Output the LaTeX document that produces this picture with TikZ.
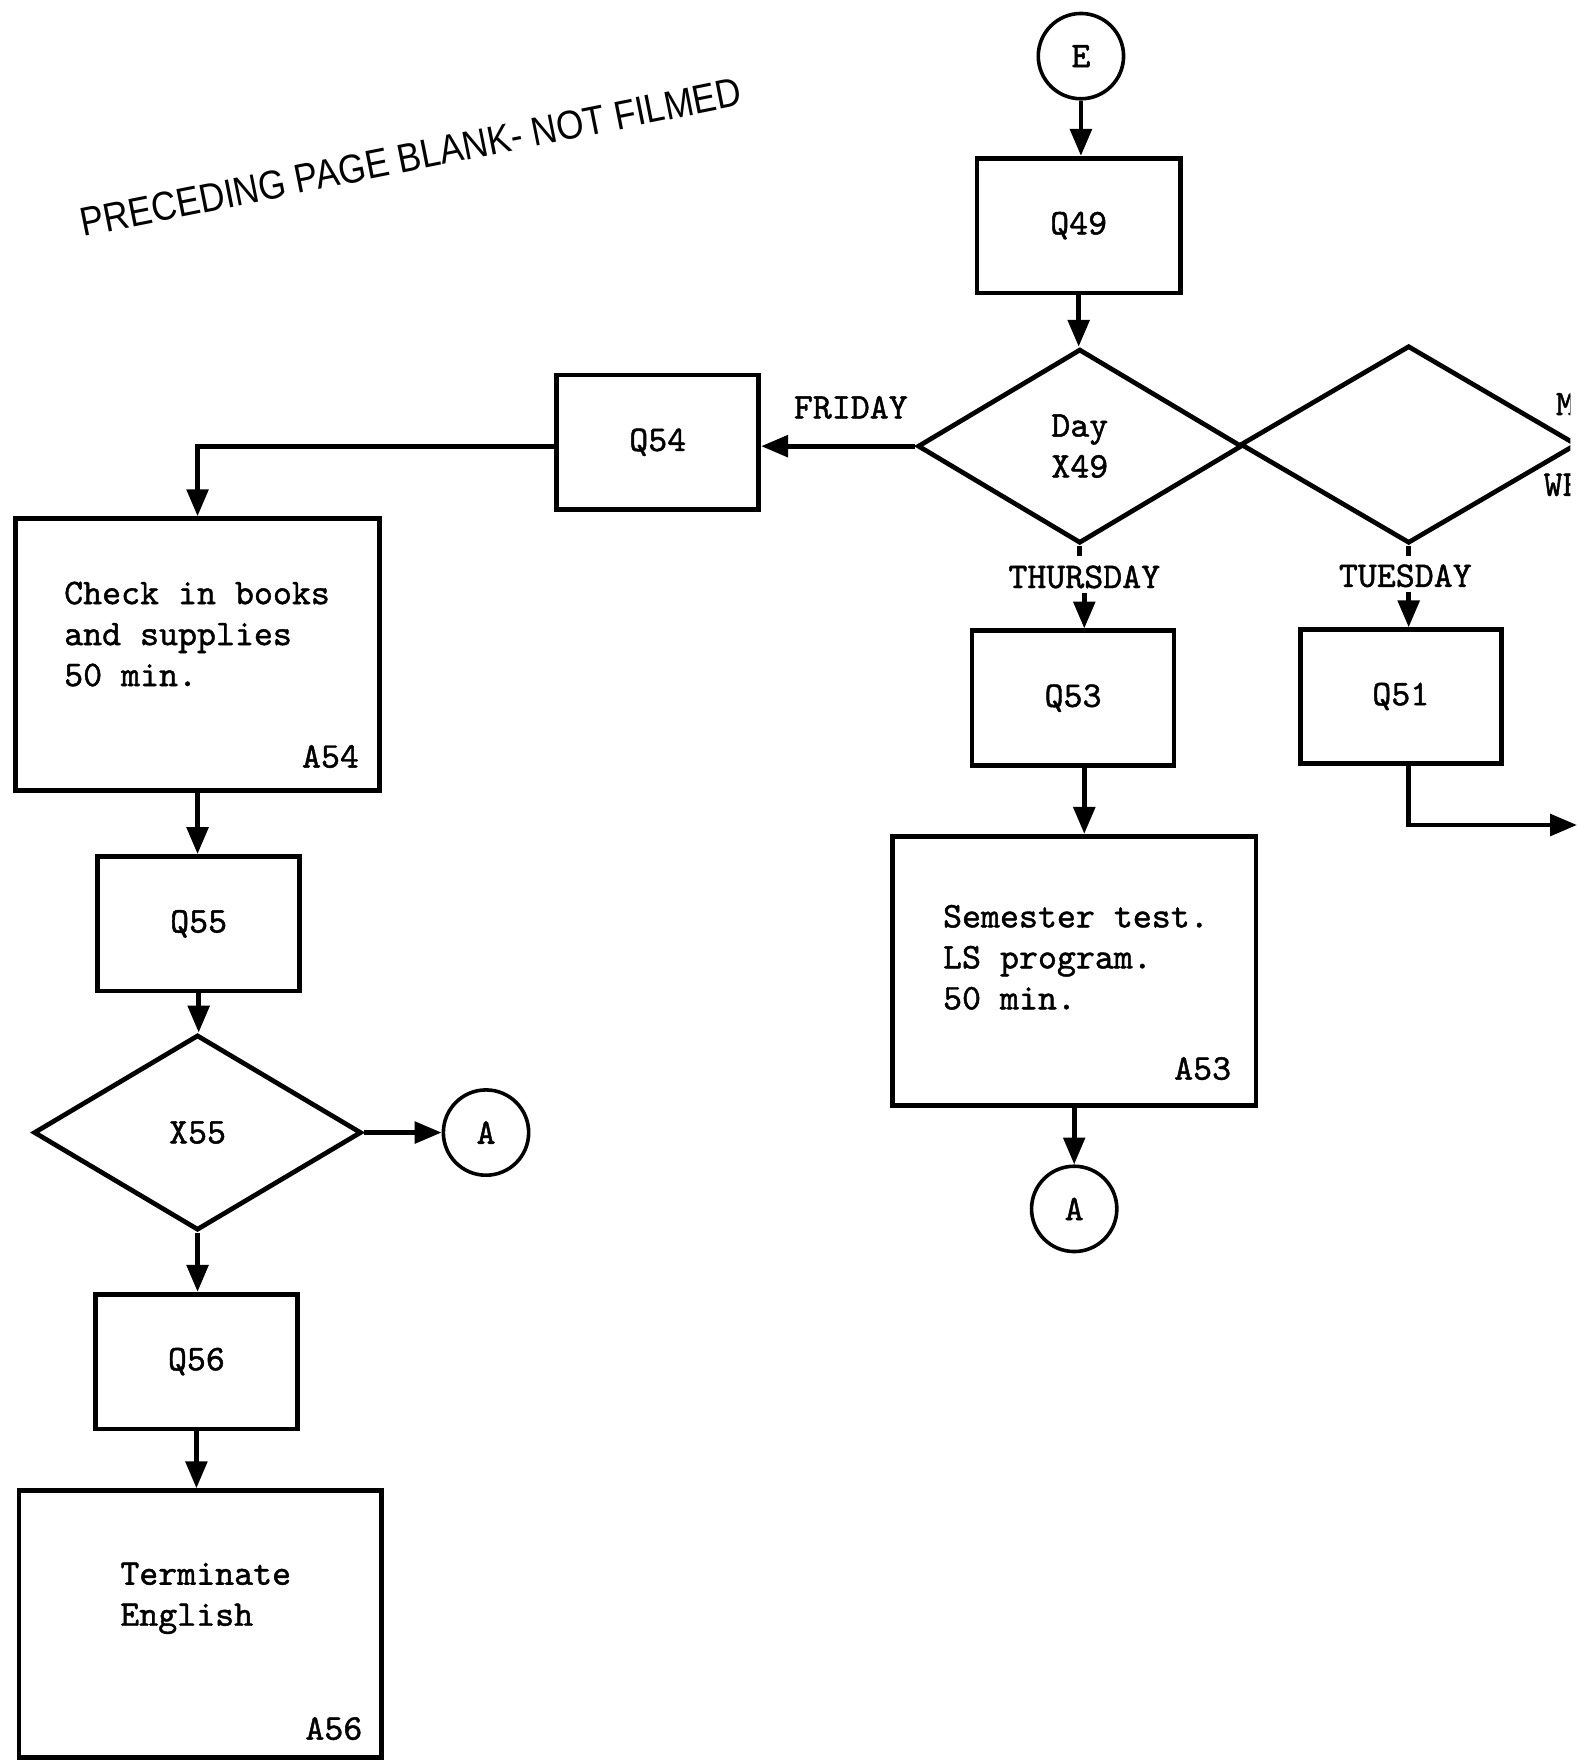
\documentclass[tikz,border=0pt]{standalone}
\usepackage{fontspec}
\newfontfamily\stampfont{Liberation Sans}
\newfontfamily\typefont{lmmono10-regular.otf}[FakeBold=1.2]
\usetikzlibrary{arrows.meta,shapes.geometric}

\tikzset{
  tt/.style={font=\fontsize{32.2}{36.5}\selectfont\typefont},
  box/.style={draw, line width=4.2pt, rectangle, inner sep=0pt, tt},
  decision/.style={draw, line width=4.2pt, diamond, inner sep=0pt, tt, align=center},
  conn/.style={draw, line width=3.2pt, circle, inner sep=0pt, minimum size=76pt, tt},
  arr/.style={line width=4.2pt, -{Triangle[length=24pt,width=19pt]}},
  wire/.style={line width=4.2pt},
  tag/.style={tt, inner sep=0pt},
  stamp/.style={font=\stampfont\fontsize{36}{40}\selectfont, inner sep=0pt},
}

\begin{document}
\begin{tikzpicture}[x=1pt,y=-1pt]
\fill[white] (0,0) rectangle (1417,1568);
\useasboundingbox (0,0) rectangle (1417,1568);

% rubber stamp across the upper left
\node[stamp, rotate=11.3, xscale=0.87] (stampline) at (366,140) {PRECEDING PAGE BLANK- NOT FILMED};

% ---- right-hand branch ----
\node[conn] (e) at (963,50) {E};
\node[box, minimum width=181pt, minimum height=120pt] (q49) at (961,201) {Q49};
\node[decision, minimum width=289pt, minimum height=173pt] (d1) at (962,397.5) {Day\\X49};

% second decision runs off the page edge
\begin{scope}
  \clip (1000,250) rectangle (1399,520);
  \node[decision, minimum width=300pt, minimum height=176pt] (d2) at (1255,396) {};
  \node[tag, anchor=west] (mon) at (1386,360) {M};
  \node[tag, anchor=west] (wed) at (1375,432) {WE};
\end{scope}

\node[tag] (fri) at (758,363) {FRIDAY};
\node[tag, inner sep=4pt] (thu) at (966,514) {THURSDAY};
\node[tag, inner sep=4pt] (tue) at (1252,513) {TUESDAY};

\node[box, minimum width=180pt, minimum height=120pt] (q53) at (956,622) {Q53};
\node[box, minimum width=324pt, minimum height=240pt] (a53) at (957,865) {};
\node[tag, anchor=north west, align=left] (a53t) at (840,806) {Semester test.\\LS program.\\50 min.};
\node[tag, anchor=east] (a53n) at (1097,952) {A53};
\node[conn] (ca2) at (957,1077) {A};

\node[box, minimum width=179pt, minimum height=119pt] (q51) at (1248,620.5) {Q51};
\coordinate (exit) at (1405,735);

% ---- left-hand branch ----
\node[box, minimum width=180pt, minimum height=120pt] (q54) at (586,394) {Q54};
\node[box, minimum width=324pt, minimum height=242pt] (a54) at (176,583) {};
\node[tag, anchor=north west, align=left] (a54t) at (57,518) {Check in books\\and supplies\\50 min.};
\node[tag, anchor=east] (a54n) at (320,674) {A54};

\node[box, minimum width=180pt, minimum height=120pt] (q55) at (177,823) {Q55};
\node[decision, minimum width=292pt, minimum height=174pt] (x55) at (176,1009) {X55};
\node[conn] (ca1) at (433,1009) {A};
\node[box, minimum width=180pt, minimum height=120pt] (q56) at (175,1213) {Q56};
\node[box, minimum width=323pt, minimum height=238pt] (a56) at (178.5,1447) {};
\node[tag, anchor=north west, align=left] (a56t) at (107,1392) {Terminate\\English};
\node[tag, anchor=east] (a56n) at (323,1540) {A56};

% ---- connectors ----
\draw[arr] (e.south) -- (e.south |- q49.north);
\draw[arr] (q49.south) -- (q49.south |- d1.north);
\draw[arr] (d1.west) -- (d1.west -| q54.east);
\draw[arr] (d1.west -| q54.west) -| (a54.north);

\draw[wire] (d1.south) -- ([yshift=-9pt]d1.south);
\draw[arr] (thu.south) -- (thu.south |- q53.north);
\draw[arr] (thu.south |- q53.south) -- (thu.south |- a53.north);
\draw[arr] (a53.south) -- (ca2.north);

\draw[wire] (d2.south) -- ([yshift=-9pt]d2.south);
\draw[arr] (d2.south |- tue.south) -- (d2.south |- q51.north);
\draw[arr] (d2.south |- q51.south) |- (exit);

\draw[arr] (a54.south) -- (a54.south |- q55.north);
\draw[arr] (q55.south) -- (q55.south |- x55.north);
\draw[arr] (x55.east) -- (ca1.west);
\draw[arr] (x55.south) -- (x55.south |- q56.north);
\draw[arr] (q56.south) -- (q56.south |- a56.north);
\end{tikzpicture}
\end{document}
